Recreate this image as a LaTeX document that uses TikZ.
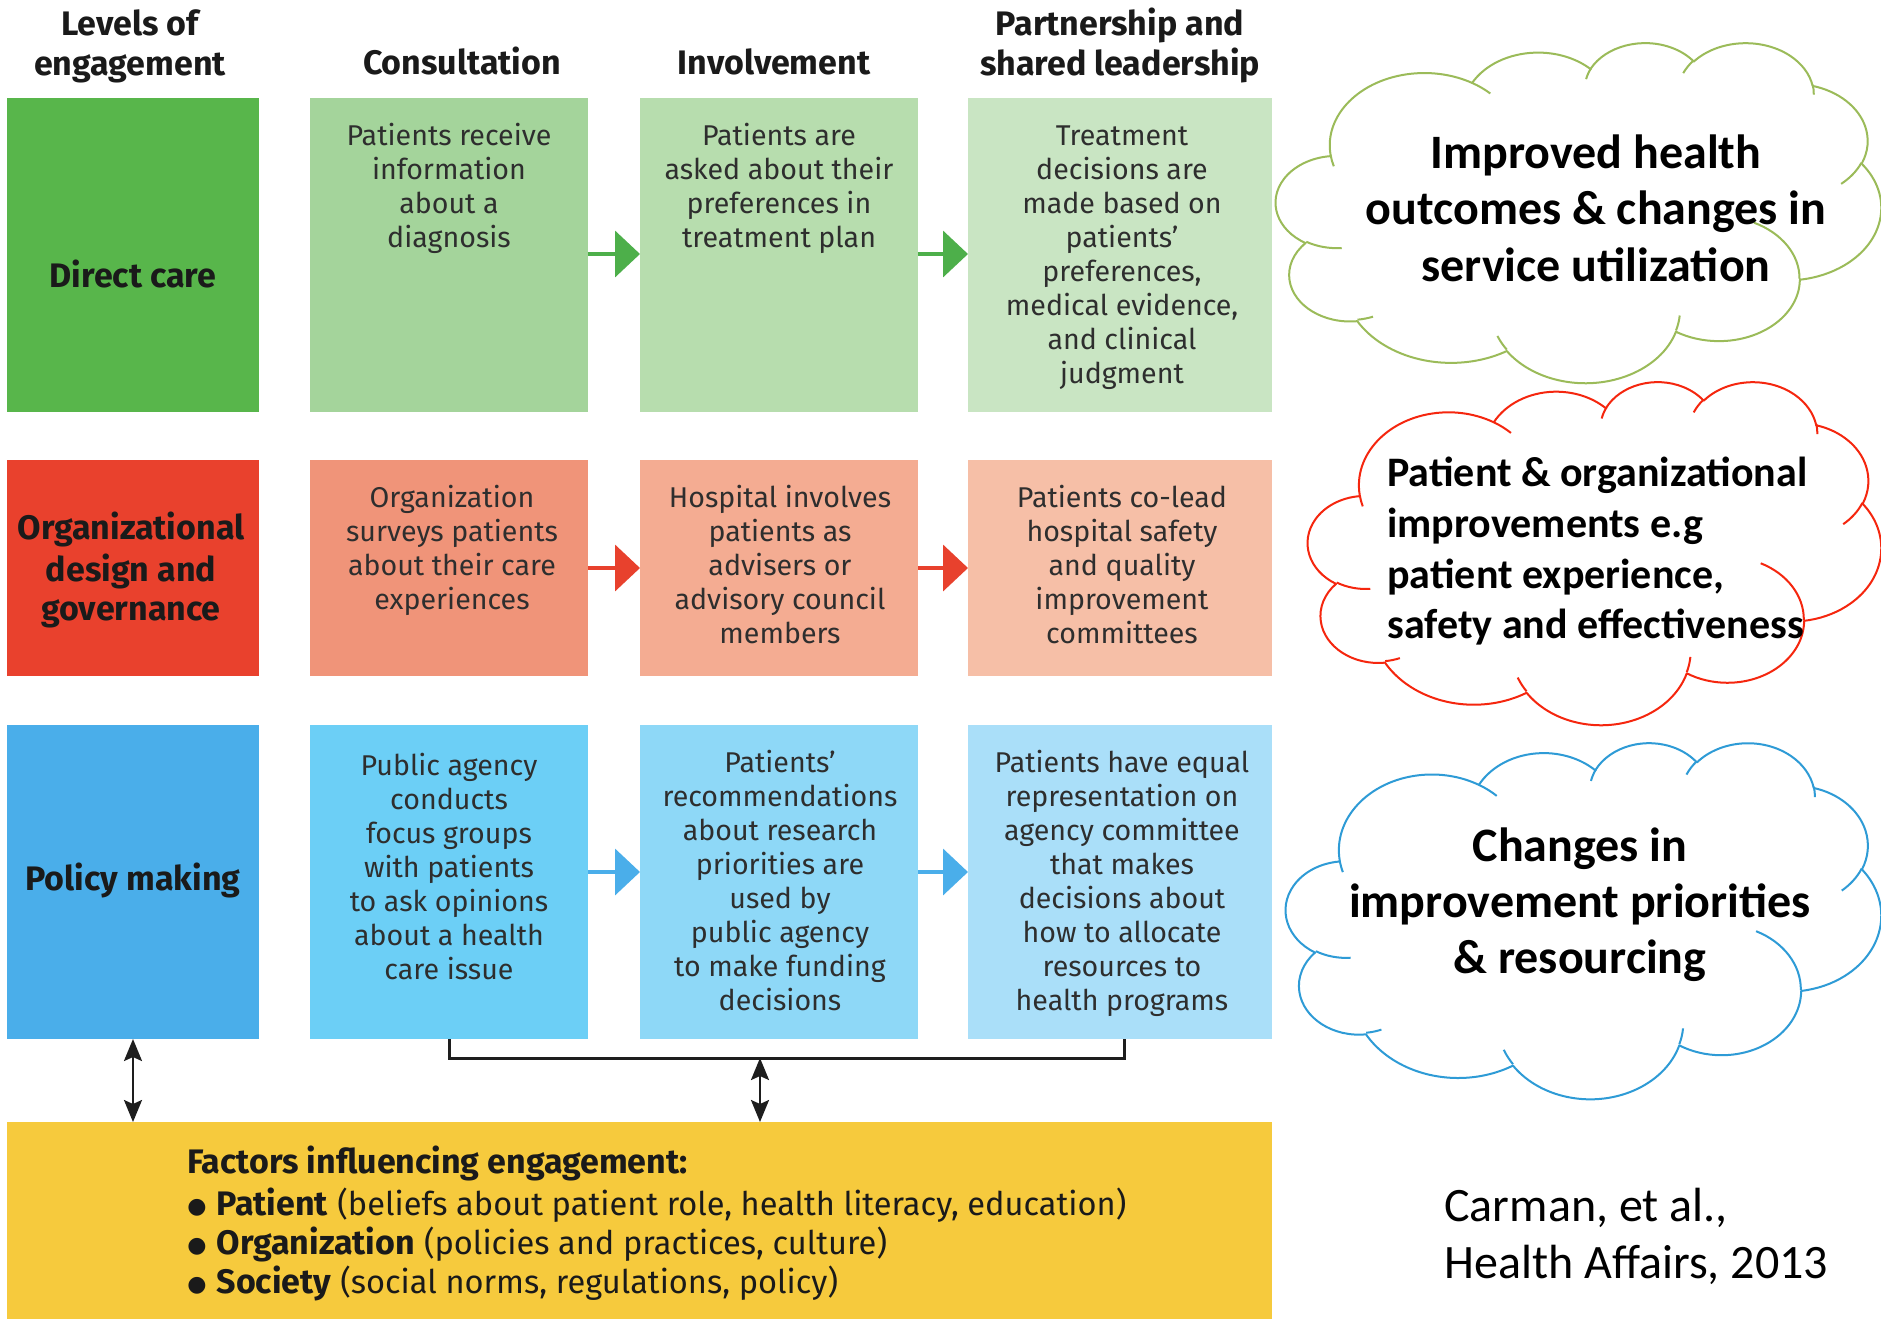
\documentclass[tikz,border=0pt]{standalone}
\usepackage{fontspec}
\setmainfont{Fira Sans}
\newfontfamily\cloudfont{Carlito}
\newfontfamily\symfont{DejaVu Sans}
\usetikzlibrary{arrows.meta}

% panel colours
\definecolor{dcDark}{HTML}{58B64B}
\definecolor{dcA}{HTML}{A4D49B}
\definecolor{dcB}{HTML}{B7DDAE}
\definecolor{dcC}{HTML}{C9E5C3}
\definecolor{ogDark}{HTML}{E9412D}
\definecolor{ogA}{HTML}{F09479}
\definecolor{ogB}{HTML}{F4AC92}
\definecolor{ogC}{HTML}{F6BFA7}
\definecolor{pmDark}{HTML}{4AAEEA}
\definecolor{pmA}{HTML}{6CCFF6}
\definecolor{pmB}{HTML}{8ED8F7}
\definecolor{pmC}{HTML}{AADFF9}
\definecolor{factorYellow}{HTML}{F6CA3D}
\definecolor{arrowGreen}{HTML}{4DAF4A}
\definecolor{arrowRed}{HTML}{E8412D}
\definecolor{arrowBlue}{HTML}{4AAEEA}
\definecolor{bodyGray}{HTML}{2E2E2E}
\definecolor{labelBlack}{HTML}{1A1A1A}
\definecolor{linkGray}{HTML}{1E1E1E}
\definecolor{cloudGreen}{HTML}{9BBB59}
\definecolor{cloudRed}{HTML}{F5260E}
\definecolor{cloudBlue}{HTML}{2E9BD6}

% start/sweep of an elliptic arc given by visual angles -> parametric angles
\newcommand\cloudangles[4]{%
  \pgfmathparse{atan2((#1)*sin(#3),(#2)*cos(#3))}\xdef\cangA{\pgfmathresult}%
  \pgfmathparse{atan2((#1)*sin((#3)+(#4)),(#2)*cos((#3)+(#4)))}\xdef\cangB{\pgfmathresult}%
  \pgfmathparse{mod(\cangB-(\cangA)+720,360)}\xdef\cangD{\pgfmathresult}%
}

% cloud callout: #1,#2 top-left corner, #3 width, #4 height (all px), #5 colour
\newcommand\pptcloud[5]{%
  \begin{scope}[shift={(#1,#2)}, x=1cm, y=1cm,
      xscale={#3/(2*28.45274*43.2)}, yscale={-#4/(2*28.45274*43.2)}]
    \filldraw[fill=white, draw=#5, line width=1pt, line join=round]
      (3.9,14.37)
      \foreach \rx/\ry/\st/\sw in {
        6.753/9.190/-190.4875/123.7805,
        5.333/7.267/-144.1024/89.9452,
        4.365/5.945/-145.8079/99.7230,
        4.857/6.595/-130.9861/117.2417,
        5.333/7.273/-78.7089/109.0269,
        6.775/9.220/-46.2673/130.2690,
        5.785/7.867/0.6250/114.0333,
        6.752/9.215/22.4516/115.1726,
        7.720/10.543/66.2426/75.7110,
        4.360/5.918/-274.9421/146.7356,
        4.345/5.945/-246.8285/152.5189}{
        \pgfextra{\cloudangles{\rx}{\ry}{\st}{\sw}}
        arc[start angle=\cangA, delta angle=\cangD, x radius=\rx, y radius=\ry]
      } -- cycle;
    \draw[draw=#5, line width=1pt]
      \foreach \px/\py/\rx/\ry/\st/\sw in {
        4.693/26.177/4.345/5.945/86.7420/26.4295,
        6.928/34.899/4.360/5.918/73.6105/11.4475,
        16.478/39.090/6.752/9.215/137.6242/14.0811,
        28.827/34.751/6.752/9.215/6.4533/15.9984,
        34.129/22.954/5.785/7.867/-70.2924/70.9174,
        41.798/15.354/5.333/7.273/30.3180/27.7515,
        38.324/5.426/4.857/6.595/-13.7443/14.8589,
        29.078/3.952/4.857/6.595/-149.1815/18.1954,
        22.141/4.720/4.365/5.945/-163.4943/17.6864,
        14.000/5.192/6.753/9.190/-66.7070/12.3194,
        4.127/15.789/6.753/9.190/157.6544/11.8539}{
        (\px,\py) \pgfextra{\cloudangles{\rx}{\ry}{\st}{\sw}}
        arc[start angle=\cangA, delta angle=\cangD, x radius=\rx, y radius=\ry]
      };
  \end{scope}}

% one bullet of the factors list
\newcommand\factor[2]{%
  \raisebox{0.8pt}{\symfont\fontsize{11}{11}\selectfont ●}\hspace{5pt}\textbf{#1}
  {\fontsize{16.3}{19.5}\selectfont(#2)}}

\tikzset{
  panel/.style={rectangle, draw=none, inner sep=0pt, outer sep=0pt},
  wide/.style={minimum width=126pt},
  colA/.style={minimum width=139pt},
  colB/.style={minimum width=139pt},
  colC/.style={minimum width=152pt},
  tall/.style={minimum height=157pt},
  short/.style={minimum height=108pt},
  bodytext/.style={align=center, inner sep=0pt, anchor=north, text=bodyGray,
    font=\fontsize{14.3}{17}\selectfont},
  rowlabel/.style={align=center, inner sep=0pt, text=labelBlack,
    font=\fontsize{17}{19.5}\selectfont\bfseries},
  header/.style={align=center, inner sep=0pt, text=labelBlack,
    font=\fontsize{17}{20}\selectfont\bfseries},
  stage/.style={-{Triangle[length=12.5pt,width=23pt]}, line width=2pt},
  link/.style={{Stealth[length=11pt,width=9pt,inset=2pt]}-{Stealth[length=11pt,width=9pt,inset=2pt]},
    line width=1.2pt, draw=linkGray},
  bracketline/.style={line width=1.5pt, draw=linkGray},
  cloudtext/.style={inner sep=0pt, text=black},
}

\begin{document}
\begin{tikzpicture}[x=0.5pt, y=-0.5pt]
  \fill[white] (0,0) rectangle (1881,1319);
  \useasboundingbox (0,0) rectangle (1881,1319);

  % column headings
  \node[header, anchor=north] (hLevels) at (130,7) {\strut Levels of\\engagement};
  \node[header, anchor=base] (hCons) at (462,74) {Consultation};
  \node[header, anchor=base] (hInv) at (774,74) {Involvement};
  \node[header, anchor=north] (hPart) at (1120,7) {\strut Partnership and\\shared leadership};

  % direct care row
  \node[panel, wide, tall, fill=dcDark] (dc) at (133,255) {};
  \node[panel, colA, tall, fill=dcA] (dcA) at (449,255) {};
  \node[panel, colB, tall, fill=dcB] (dcB) at (779,255) {};
  \node[panel, colC, tall, fill=dcC] (dcC) at (1120,255) {};

  % organizational design row
  \node[panel, wide, short, fill=ogDark] (og) at (133,568) {};
  \node[panel, colA, short, fill=ogA] (ogA) at (449,568) {};
  \node[panel, colB, short, fill=ogB] (ogB) at (779,568) {};
  \node[panel, colC, short, fill=ogC] (ogC) at (1120,568) {};

  % policy making row
  \node[panel, wide, tall, fill=pmDark] (pm) at (133,882) {};
  \node[panel, colA, tall, fill=pmA] (pmA) at (449,882) {};
  \node[panel, colB, tall, fill=pmB] (pmB) at (779,882) {};
  \node[panel, colC, tall, fill=pmC] (pmC) at (1120,882) {};

  % factors panel
  \node[panel, minimum width=632.5pt, minimum height=98.5pt, fill=factorYellow]
    (factors) at (639.5,1220.5) {};

  % row labels
  \node[rowlabel, anchor=base] (dcLab) at (133,287) {Direct care};
  \node[rowlabel, anchor=north] (ogLab) at (131,512) {\strut Organizational\\design and\\governance};
  \node[rowlabel, anchor=base] (pmLab) at (133,890) {Policy making};

  % panel texts
  \node[bodytext] (tdcA) at (449,121) {\strut Patients receive\\information\\about a\\diagnosis};
  \node[bodytext] (tdcB) at (779,121) {\strut Patients are\\asked about their\\preferences in\\treatment plan};
  \node[bodytext] (tdcC) at (1122,121) {\strut Treatment\\decisions are\\made based on\\patients’\\preferences,\\medical evidence,\\and clinical\\judgment};

  \node[bodytext] (togA) at (452,483) {\strut Organization\\surveys patients\\about their care\\experiences};
  \node[bodytext] (togB) at (780,483) {\strut Hospital involves\\patients as\\advisers or\\advisory council\\members};
  \node[bodytext] (togC) at (1122,483) {\strut Patients co-lead\\hospital safety\\and quality\\improvement\\committees};

  \node[bodytext] (tpmA) at (449,751) {\strut Public agency\\conducts\\focus groups\\with patients\\to ask opinions\\about a health\\care issue};
  \node[bodytext] (tpmB) at (780,748) {\strut Patients’\\recommendations\\about research\\priorities are\\used by\\public agency\\to make funding\\decisions};
  \node[bodytext] (tpmC) at (1122,748) {\strut Patients have equal\\representation on\\agency committee\\that makes\\decisions about\\how to allocate\\resources to\\health programs};

  % progression arrows
  \draw[stage, draw=arrowGreen, fill=arrowGreen] ([yshift=0.5pt]dcA.east) -- ([yshift=0.5pt]dcB.west);
  \draw[stage, draw=arrowGreen, fill=arrowGreen] ([yshift=0.5pt]dcB.east) -- ([yshift=0.5pt]dcC.west);
  \draw[stage, draw=arrowRed, fill=arrowRed] (ogA.east) -- (ogB.west);
  \draw[stage, draw=arrowRed, fill=arrowRed] (ogB.east) -- (ogC.west);
  \draw[stage, draw=arrowBlue, fill=arrowBlue] ([yshift=5pt]pmA.east) -- ([yshift=5pt]pmB.west);
  \draw[stage, draw=arrowBlue, fill=arrowBlue] ([yshift=5pt]pmB.east) -- ([yshift=5pt]pmC.west);

  % bracket and links to the factors panel
  \coordinate (brRight) at (1124,1039);
  \draw[bracketline] (pmA.south) -- ++(0,19) -| (brRight);
  \coordinate (brMid) at (760,1058);
  \draw[link] (brMid) -- (brMid |- factors.north);
  \draw[link] (pm.south) -- (pm.south |- factors.north);

  % factors text
  \node[inner sep=0pt, anchor=north west, align=left, text=labelBlack,
        font=\fontsize{17}{19.5}\selectfont] (factorText) at (187,1146)
    {\strut\textbf{Factors influencing engagement:}\\
     \factor{Patient}{beliefs about patient role, health literacy, education}\\
     \factor{Organization}{policies and practices, culture}\\
     \factor{Society}{social norms, regulations, policy}};

  % outcome clouds
  \pptcloud{1276}{42}{605}{340}{cloudGreen}
  \pptcloud{1308}{381}{573}{343}{cloudRed}
  \pptcloud{1286}{742}{595}{356}{cloudBlue}

  \node[cloudtext, anchor=north, align=center,
        font=\cloudfont\bfseries\fontsize{24}{28.25}\selectfont] (outHealth) at (1596,128.5)
    {\strut Improved health\\outcomes \& changes in\\service utilization};
  \node[cloudtext, anchor=north west, align=left,
        font=\cloudfont\bfseries\fontsize{21}{25.3}\selectfont] (outOrg) at (1387,451)
    {\strut Patient \& organizational\\improvements e.g\\patient experience,\\safety and effectiveness};
  \node[cloudtext, anchor=north, align=center,
        font=\cloudfont\bfseries\fontsize{24}{28}\selectfont] (outPolicy) at (1580,822)
    {\strut Changes in\\improvement priorities\\\& resourcing};

  % source
  \node[inner sep=0pt, anchor=north west, align=left, text=black,
        font=\cloudfont\fontsize{24}{28.5}\selectfont] (source) at (1444,1181)
    {\strut Carman, et al.,\\Health Affairs, 2013};
\end{tikzpicture}
\end{document}
